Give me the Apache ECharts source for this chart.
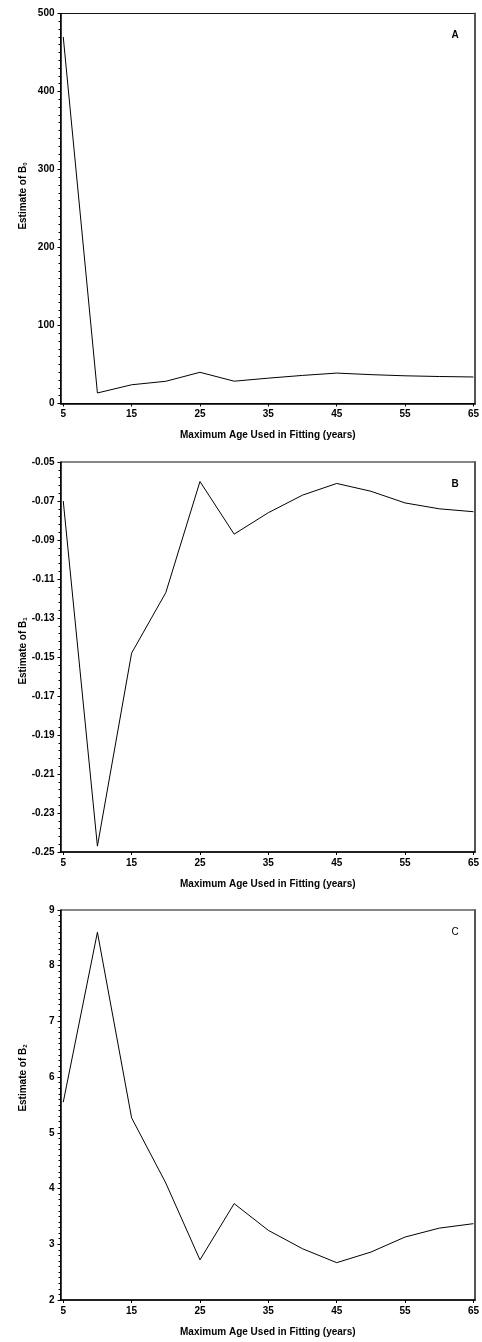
<!DOCTYPE html>
<html>
<head>
<meta charset="utf-8">
<script src="https://cdn.jsdelivr.net/npm/echarts@6/dist/echarts.min.js"></script>
<style>
  html, body { margin: 0; padding: 0; background: #fff; }
  #chart { width: 482px; height: 1342px; }
</style>
</head>
<body>
<div id="chart"></div>
<script>
// Maximum age used in fitting (years)
const ages = [5, 10, 15, 20, 25, 30, 35, 40, 45, 50, 55, 60, 65];
const xTickValues = [5, 15, 25, 35, 45, 55, 65];

// Parameter estimates for each maximum age
const estimateB0 = [470, 13.5, 24, 28.5, 40, 28.6, 32.5, 36, 39, 37, 35.5, 34.6, 34];
const estimateB1 = [-0.070, -0.247, -0.148, -0.117, -0.060, -0.087, -0.076, -0.067, -0.061, -0.065, -0.071, -0.074, -0.0755];
const estimateB2 = [5.55, 8.6, 5.27, 4.1, 2.72, 3.73, 3.25, 2.92, 2.67, 2.86, 3.13, 3.29, 3.37];

const panelLetters = ['A', 'B', 'C'];
const subscripts = ['0', '1', '2'];
const xTitle = 'Maximum Age Used in Fitting (years)';

const yRanges = [
  { min: 0, max: 500, interval: 100, minorSplit: 10, decimals: 0 },
  { min: -0.25, max: -0.05, interval: 0.02, minorSplit: 5, decimals: 2 },
  { min: 2, max: 9, interval: 1, minorSplit: 10, decimals: 0 }
];
const panelSeries = [estimateB0, estimateB1, estimateB2];

const gridTops = [13.5, 462, 910];
const gridHeight = 390;
const yTitleCenters = [196, 651, 1078];
const letterWeights = ['bold', 'bold', 'normal'];
const fontFamily = '"Liberation Sans", Arial, sans-serif';

const grids = [], xAxes = [], yAxes = [], series = [], graphics = [];

panelSeries.forEach((vals, i) => {
  const r = yRanges[i];
  grids.push({
    left: 60.5, right: 4.3, top: gridTops[i], height: gridHeight,
    show: true, borderColor: '#111', borderWidth: 1, backgroundColor: 'transparent'
  });
  xAxes.push({
    type: 'value', gridIndex: i, min: 4.6, max: 65.25,
    splitLine: { show: false },
    axisLine: { lineStyle: { color: '#000', width: 1.5 } },
    axisTick: { customValues: xTickValues, length: 3, lineStyle: { color: '#000' } },
    axisLabel: {
      customValues: xTickValues, margin: 6, color: '#000',
      fontFamily, fontWeight: 'bold', fontSize: 10
    },
    name: xTitle, nameLocation: 'middle', nameGap: 27,
    nameTextStyle: { color: '#000', fontFamily, fontWeight: 'bold', fontSize: 10 }
  });
  yAxes.push({
    type: 'value', gridIndex: i, min: r.min, max: r.max, interval: r.interval,
    splitLine: { show: false },
    axisLine: { show: true, lineStyle: { color: '#000', width: 1.5 } },
    axisTick: { show: true, length: 3, lineStyle: { color: '#000' } },
    minorTick: { show: true, splitNumber: r.minorSplit, length: 2, lineStyle: { color: '#000' } },
    axisLabel: {
      margin: 6, color: '#000', fontFamily, fontWeight: 'bold', fontSize: 10,
      formatter: v => v.toFixed(r.decimals)
    }
  });
  series.push({
    type: 'line', xAxisIndex: i, yAxisIndex: i,
    data: ages.map((a, k) => [a, vals[k]]),
    showSymbol: false, symbol: 'none', smooth: false,
    lineStyle: { color: '#000', width: 1 },
    animation: false
  });
  // rotated y-axis title with subscript
  graphics.push({
    type: 'text', x: 23, y: yTitleCenters[i], rotation: Math.PI / 2,
    style: {
      text: '{m|Estimate of B}{s|' + subscripts[i] + '}',
      align: 'center', verticalAlign: 'middle', fill: '#000',
      rich: {
        m: { fontFamily, fontWeight: 'bold', fontSize: 10, fill: '#000' },
        s: { fontFamily, fontWeight: 'bold', fontSize: 6, fill: '#000', padding: [5, 0, 0, 0] }
      }
    }
  });
  // panel letter
  graphics.push({
    type: 'text', x: 455, y: gridTops[i] + 22,
    style: {
      text: panelLetters[i], align: 'center', verticalAlign: 'middle', fill: '#000',
      font: letterWeights[i] + ' 10px "Liberation Sans", Arial, sans-serif'
    }
  });
});

// right-hand frame edges, drawn a little heavier and grey
panelSeries.forEach((vals, i) => {
  yAxes.push({
    type: 'value', gridIndex: i, position: 'right',
    min: yRanges[i].min, max: yRanges[i].max,
    splitLine: { show: false }, axisTick: { show: false }, axisLabel: { show: false },
    axisLine: { show: true, lineStyle: { color: '#555', width: 2 } }
  });
});

const chart = echarts.init(document.getElementById('chart'), null, { renderer: 'canvas' });
chart.setOption({
  animation: false,
  backgroundColor: '#fff',
  grid: grids,
  xAxis: xAxes,
  yAxis: yAxes,
  series,
  graphic: graphics
});
</script>
</body>
</html>
